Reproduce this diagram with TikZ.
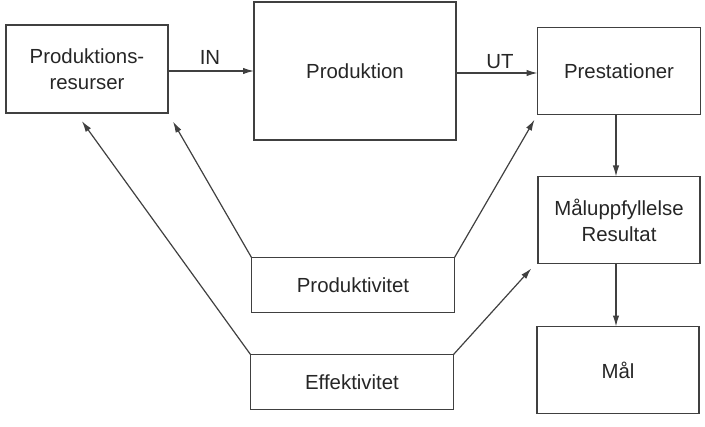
\documentclass[tikz,border=0pt]{standalone}
\usepackage{fontspec}
\setmainfont{Liberation Sans}
\usetikzlibrary{arrows.meta}

\begin{document}
\begin{tikzpicture}[x=0.5pt, y=-0.5pt,
    caixa/.style={draw=black!75, line width=0.6pt, inner sep=0pt, outer sep=0pt,
        align=center, font=\fontsize{10.2}{13}\selectfont, text=black!85},
    seta/.style={draw=black!75, line width=0.6pt, -{Latex[length=5.5pt,width=3.2pt]}},
    rotulo/.style={font=\fontsize{10.2}{13}\selectfont, text=black!85}]

    % 0. Moldura fixa (mesmas proporcoes da figura original)
    \useasboundingbox (0,0) rectangle (705,427);

    % 1. Caixas de cima: recursos -> producao -> prestacoes
    \node[caixa, minimum width=81pt, minimum height=44pt] (resurser) at (87,69) {Produktions-\\resurser};
    \node[caixa, minimum width=101pt, minimum height=69pt] (produktion) at (355,71) {Produktion};
    \node[caixa, minimum width=81.5pt, minimum height=43.5pt] (prestationer) at (619,71) {Prestationer};

    % 2. Coluna da direita
    \node[caixa, minimum width=81pt, minimum height=43.5pt] (resultat) at (619,220) {Måluppfyllelse\\Resultat};
    \node[caixa, minimum width=81pt, minimum height=43.5pt] (mal) at (618,370) {Mål};

    % 3. Caixas de baixo (medidas)
    \node[caixa, minimum width=101.5pt, minimum height=27.5pt] (produktivitet) at (353,285) {Produktivitet};
    \node[caixa, minimum width=101.5pt, minimum height=27.5pt] (effektivitet) at (352,382) {Effektivitet};

    % 4. Fluxo principal (setas horizontais)
    \draw[seta] ([yshift=-1pt]resurser.east) -- ([yshift=-1pt]resurser.east -| produktion.west);
    \node[rotulo] (in) at (210,57) {IN};
    \draw[seta] ([yshift=-1pt]produktion.east) -- ([yshift=-1pt]produktion.east -| prestationer.west);
    \node[rotulo] (ut) at (500,62) {UT};

    % setas verticais (mesmo x, sem inclinacao)
    \draw[seta] ([xshift=-1.5pt]prestationer.south) -- ([xshift=-1.5pt]prestationer.south |- resultat.north);
    \draw[seta] ([xshift=-1.5pt]resultat.south) -- ([xshift=-1.5pt]resultat.south |- mal.north);

    % 5. Setas diagonais das medidas
    \draw[seta, shorten >=5pt] (produktivitet.north west) -- (resurser.south east);
    \draw[seta, shorten >=3pt] (produktivitet.north east) -- (prestationer.south west);
    \draw[seta, shorten >=5pt] (effektivitet.north west) -- ([xshift=-5.5pt]resurser.south);
    \draw[seta, shorten >=2pt] (effektivitet.north east) -- ([xshift=-2pt,yshift=-1pt]resultat.south west);

\end{tikzpicture}
\end{document}
